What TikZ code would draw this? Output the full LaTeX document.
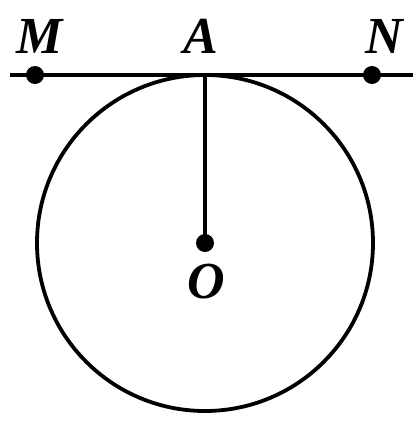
\documentclass[tikz,border=0pt]{standalone}
\usepackage{fontspec}
\setmainfont{Liberation Serif}
\begin{document}
\begin{tikzpicture}[x=1pt,y=-1pt,line width=3.8pt,
  dot/.style={circle,fill=black,inner sep=0pt,minimum size=18pt},
  lbl/.style={font=\fontsize{52}{52}\selectfont\bfseries\itshape,inner sep=0pt}]
\useasboundingbox (0,0) rectangle (415,424);
\coordinate (L) at (10,75);
\coordinate (R) at (413,75);
\coordinate (A) at (205,75);
\node[dot] (M) at (35,75) {};
\node[dot] (N) at (372,75) {};
\node[dot] (O) at (205,243) {};
\draw (205,243) circle (168);
\draw (L) -- (R);
\draw (A) -- (O.center);
\node[lbl] (lM) at (40,36) {M};
\node[lbl] (lA) at (201,36) {A};
\node[lbl] (lN) at (384,36) {N};
\node[lbl] (lO) at (206,282) {O};
\end{tikzpicture}
\end{document}
